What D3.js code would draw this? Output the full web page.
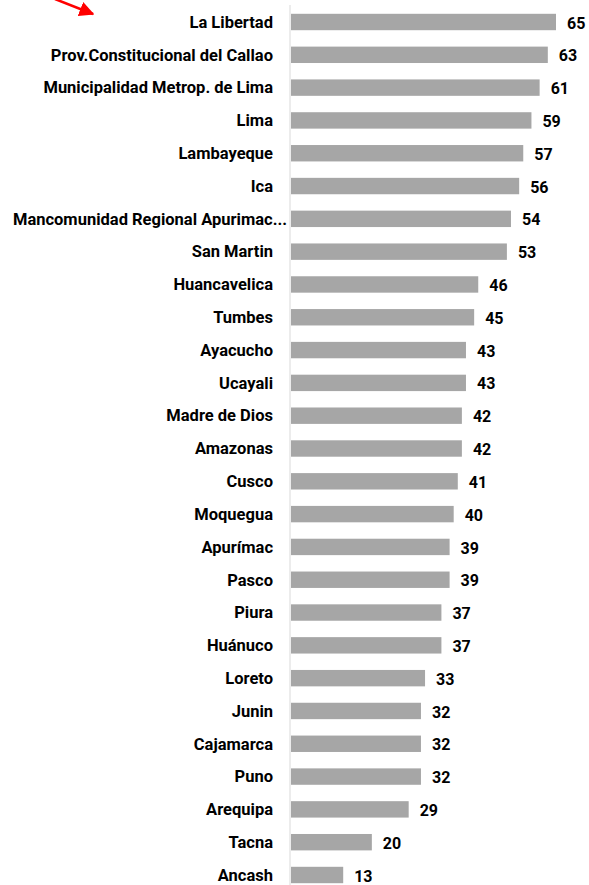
<!DOCTYPE html>
<html>
<head>
<meta charset="utf-8">
<script src="https://cdn.jsdelivr.net/npm/d3@7"></script>
<style>
  body { margin: 0; background: #fff; }
  svg text { font-family: "Roboto", sans-serif; font-weight: bold; fill: #000; }
</style>
</head>
<body>
<div id="chart"></div>
<script>
// Data
const categories = ["La Libertad", "Prov.Constitucional del Callao", "Municipalidad Metrop. de Lima",
  "Lima", "Lambayeque", "Ica", "Mancomunidad Regional Apurimac...", "San Martin", "Huancavelica",
  "Tumbes", "Ayacucho", "Ucayali", "Madre de Dios", "Amazonas", "Cusco", "Moquegua", "Apurímac",
  "Pasco", "Piura", "Huánuco", "Loreto", "Junin", "Cajamarca", "Puno", "Arequipa", "Tacna", "Ancash"];
const values = [65, 63, 61, 59, 57, 56, 54, 53, 46, 45, 43, 43, 42, 42, 41, 40, 39, 39, 37, 37,
  33, 32, 32, 32, 29, 20, 13];

const width = 589;
const height = 885;
const axisX = 290;

const svg = d3.select("#chart")
  .append("svg")
  .attr("width", width)
  .attr("height", height);

const xScale = d3.scaleLinear()
  .domain([0, 65])
  .range([axisX, 556]);

const yScale = d3.scaleBand()
  .domain(categories)
  .range([5.6, 891.4])
  .paddingInner(0.5)
  .paddingOuter(0.25);

// vertical axis line
svg.append("line")
  .attr("x1", axisX).attr("x2", axisX)
  .attr("y1", 5).attr("y2", height)
  .attr("stroke", "#d9d9d9")
  .attr("stroke-width", 1);

// bars
svg.selectAll("rect.bar")
  .data(categories)
  .enter()
  .append("rect")
  .attr("class", "bar")
  .attr("x", xScale(0) + 1)
  .attr("y", d => yScale(d))
  .attr("width", (d, i) => xScale(values[i]) - xScale(0) - 1)
  .attr("height", yScale.bandwidth())
  .attr("fill", "#a6a6a6");

// category labels
svg.selectAll("text.cat")
  .data(categories)
  .enter()
  .append("text")
  .attr("class", "cat")
  .attr("x", d => d.endsWith("...") ? 287 : 273)
  .attr("y", d => yScale(d) + yScale.bandwidth() / 2)
  .attr("dy", "0.35em")
  .attr("text-anchor", "end")
  .style("font-size", "16.5px")
  .text(d => d);

// value labels
svg.selectAll("text.val")
  .data(categories)
  .enter()
  .append("text")
  .attr("class", "val")
  .attr("x", (d, i) => xScale(values[i]) + 11)
  .attr("y", d => yScale(d) + yScale.bandwidth() / 2 + 1)
  .attr("dy", "0.35em")
  .style("font-size", "16px")
  .text((d, i) => values[i]);

// red arrow pointing to the top bar
svg.append("defs").append("marker")
  .attr("id", "head")
  .attr("viewBox", "0 0 10 10")
  .attr("refX", 9).attr("refY", 5)
  .attr("markerWidth", 6).attr("markerHeight", 6)
  .attr("orient", "auto")
  .append("path")
  .attr("d", "M0,0 L10,5 L0,10 Z")
  .attr("fill", "#ff0000");

svg.append("line")
  .attr("x1", 55).attr("y1", -1)
  .attr("x2", 93).attr("y2", 14)
  .attr("stroke", "#ff0000")
  .attr("stroke-width", 2.5)
  .attr("marker-end", "url(#head)");
</script>
</body>
</html>
